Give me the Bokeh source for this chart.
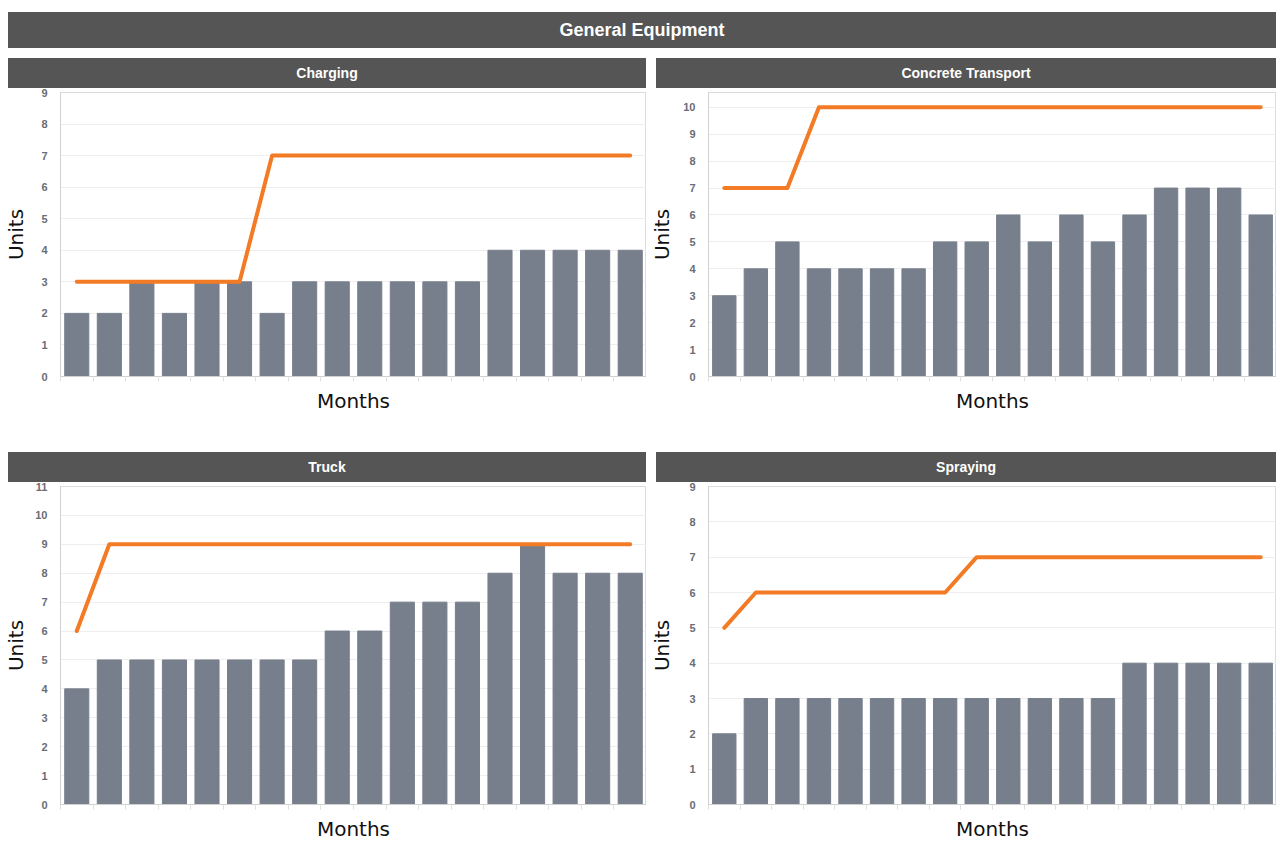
from bokeh.plotting import figure
from bokeh.models import Div, Spacer, Range1d, FixedTicker
from bokeh.layouts import column, row
from bokeh.embed import file_html
from bokeh.resources import INLINE

# ---------------- data ----------------
months = list(range(1, 19))

charging_units = [2, 2, 3, 2, 3, 3, 2, 3, 3, 3, 3, 3, 3, 4, 4, 4, 4, 4]
charging_target = [3, 3, 3, 3, 3, 3, 7, 7, 7, 7, 7, 7, 7, 7, 7, 7, 7, 7]

concrete_units = [3, 4, 5, 4, 4, 4, 4, 5, 5, 6, 5, 6, 5, 6, 7, 7, 7, 6]
concrete_target = [7, 7, 7, 10, 10, 10, 10, 10, 10, 10, 10, 10, 10, 10, 10, 10, 10, 10]

truck_units = [4, 5, 5, 5, 5, 5, 5, 5, 6, 6, 7, 7, 7, 8, 9, 8, 8, 8]
truck_target = [6, 9, 9, 9, 9, 9, 9, 9, 9, 9, 9, 9, 9, 9, 9, 9, 9, 9]

spraying_units = [2, 3, 3, 3, 3, 3, 3, 3, 3, 3, 3, 3, 3, 4, 4, 4, 4, 4]
spraying_target = [5, 6, 6, 6, 6, 6, 6, 6, 7, 7, 7, 7, 7, 7, 7, 7, 7, 7]

charging_yticks = list(range(0, 10))
concrete_yticks = list(range(0, 11))
truck_yticks = list(range(0, 12))
spraying_yticks = list(range(0, 10))

main_title = "General Equipment"
panel_titles = ["Charging", "Concrete Transport", "Truck", "Spraying"]
x_label = "Months"
y_label = "Units"

BAR = "#777f8c"
ORANGE = "#f47b25"
HDR = "#555555"


def header(text, w, h, size="14px"):
    return Div(text=text, width=w, height=h, margin=0,
               styles={"background-color": HDR, "color": "white",
                       "font-weight": "bold", "font-family": "Liberation Sans, Arial, sans-serif",
                       "font-size": size, "text-align": "center",
                       "line-height": f"{h}px", "overflow": "hidden"})


def panel(units, target, yticks, ymax, w, h, left, bottom, label_standoff):
    xs = [m - 0.5 for m in months]
    p = figure(width=w, height=h, output_backend="svg", toolbar_location=None,
               x_range=Range1d(0, len(months)), y_range=Range1d(0, ymax),
               min_border_left=left, min_border_right=0, min_border_top=4,
               min_border_bottom=bottom, margin=0)
    p.vbar(x=xs, top=units, width=0.74, bottom=0, color=BAR)
    p.line(xs, target, line_width=4, color=ORANGE, line_cap="round", line_join="round")

    p.outline_line_color = "#dcdcdc"
    p.xgrid.grid_line_color = None
    p.ygrid.grid_line_color = "#eeeeee"
    p.ygrid.ticker = FixedTicker(ticks=yticks)

    p.yaxis.ticker = FixedTicker(ticks=yticks)
    p.yaxis.major_tick_line_color = None
    p.yaxis.minor_tick_line_color = None
    p.yaxis.axis_line_color = "#d0d0d0"
    p.yaxis.major_label_text_font = "Liberation Sans"
    p.yaxis.major_label_text_font_size = "11px"
    p.yaxis.major_label_text_font_style = "bold"
    p.yaxis.major_label_text_color = "#6a6d75"
    p.yaxis.major_label_standoff = 7
    p.yaxis.axis_label = y_label
    p.yaxis.axis_label_text_font = "DejaVu Sans"
    p.yaxis.axis_label_text_font_size = "20px"
    p.yaxis.axis_label_text_font_style = "normal"
    p.yaxis.axis_label_text_color = "#111111"
    p.yaxis.axis_label_standoff = label_standoff

    xt = list(range(0, len(months) + 1))
    p.xaxis.ticker = FixedTicker(ticks=xt)
    p.xaxis.major_label_overrides = {t: "" for t in xt}
    p.xaxis.major_label_standoff = 0
    p.xaxis.major_tick_in = 0
    p.xaxis.major_tick_out = 5
    p.xaxis.major_tick_line_color = "#e0e0e0"
    p.xaxis.minor_tick_line_color = None
    p.xaxis.axis_line_color = "#d0d0d0"
    p.xaxis.axis_label = x_label
    p.xaxis.axis_label_text_font = "DejaVu Sans"
    p.xaxis.axis_label_text_font_size = "20px"
    p.xaxis.axis_label_text_font_style = "normal"
    p.xaxis.axis_label_text_color = "#111111"
    p.xaxis.axis_label_standoff = 7
    return p


p_tl = panel(charging_units, charging_target, charging_yticks, 9, 646, 364, 60, 76, 10)
p_tr = panel(concrete_units, concrete_target, concrete_yticks, 10.55, 630, 364, 62, 76, 6)
p_bl = panel(truck_units, truck_target, truck_yticks, 11, 646, 361, 60, 35, 4)
p_br = panel(spraying_units, spraying_target, spraying_yticks, 9, 630, 361, 62, 35, 12)

layout = column(
    Spacer(width=1276, height=12, margin=0),
    row(Spacer(width=8, height=36, margin=0), header(main_title, 1268, 36, "18px"), margin=0),
    Spacer(width=1276, height=10, margin=0),
    row(Spacer(width=8, height=30, margin=0), header(panel_titles[0], 638, 30),
        Spacer(width=10, height=30, margin=0), header(panel_titles[1], 620, 30), margin=0),
    row(p_tl, p_tr, margin=0),
    row(Spacer(width=8, height=30, margin=0), header(panel_titles[2], 638, 30),
        Spacer(width=10, height=30, margin=0), header(panel_titles[3], 620, 30), margin=0),
    row(p_bl, p_br, margin=0),
    margin=0,
)

open("out.html", "w").write(file_html(layout, INLINE))
